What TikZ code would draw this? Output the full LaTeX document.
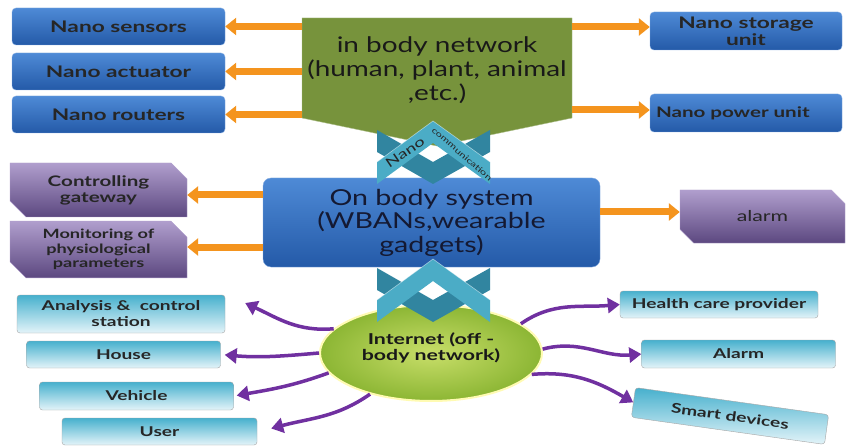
\documentclass[tikz,border=0pt]{standalone}
\usepackage{fontspec}
\setmainfont{Lato}
\newfontfamily\widefont[FakeStretch=1.42]{Lato}
\newfontfamily\greenfont[FakeStretch=1.3]{Lato}
\usetikzlibrary{arrows.meta,positioning,shapes.misc,shapes.geometric}

\definecolor{bluetop}{RGB}{78,138,214}
\definecolor{bluebot}{RGB}{36,90,168}
\definecolor{blueedge}{RGB}{130,170,225}
\definecolor{purtop}{RGB}{176,158,205}
\definecolor{purbot}{RGB}{92,72,128}
\definecolor{lbtop}{RGB}{70,176,205}
\definecolor{lbbot}{RGB}{228,244,249}
\definecolor{olive}{RGB}{119,147,60}
\definecolor{orarr}{RGB}{244,148,30}
\definecolor{purarr}{RGB}{112,48,160}
\definecolor{chevmid}{RGB}{75,172,198}
\definecolor{chevdark}{RGB}{49,133,160}
\definecolor{navytext}{RGB}{20,25,50}
\definecolor{limein}{RGB}{200,222,105}
\definecolor{limeout}{RGB}{140,182,52}

\begin{document}
\begin{tikzpicture}[x=1pt,y=-1pt,
  bluebox/.style={rectangle,rounded corners=4pt,draw=blueedge,top color=bluetop,bottom color=bluebot,
    font=\widefont\bfseries\fontsize{16}{17}\selectfont,text=black!85,align=center,minimum width=213pt,minimum height=37pt},
  purbox/.style={chamfered rectangle,chamfered rectangle corners={north east,south west},chamfered rectangle xsep=8pt,
    chamfered rectangle ysep=8pt,draw=purtop,top color=purtop,bottom color=purbot,
    font=\widefont\bfseries\fontsize{14.5}{16}\selectfont,text=black!85,align=center,minimum width=177pt,minimum height=54pt,inner sep=0pt},
  lbbox/.style={rectangle,rounded corners=3pt,draw=gray!70,top color=lbtop,bottom color=lbbot,
    font=\widefont\bfseries\fontsize{13.5}{16}\selectfont,text=black!85,align=center,minimum width=194pt,minimum height=28pt,inner sep=1pt},
  orarrow/.style={orarr,line width=7pt,-{Triangle[width=17pt,length=11pt]}},
  purarrow/.style={purarr,line width=3.5pt,-{Triangle[width=15pt,length=12pt]}},
  pics/chev/.style={code={
    \fill[chevdark] (-56,0) -- (0,32) -- (57,0) -- (57,22) -- (0,54) -- (-56,22) -- cycle;
    \fill[chevmid] (-56,32) -- (0,-9) -- (57,32) -- (57,54) -- (0,13) -- (-56,54) -- cycle;
    \draw[white,opacity=.5,line width=.6pt] (-56,32) -- (0,-9) -- (57,32);
  }}
]
\useasboundingbox[fill=white] (0,0) rectangle (853,446);

% in body network
\fill[olive,draw=olive!60!white] (302,18) -- (572,18) -- (572,118) -- (437,146) -- (302,118) -- cycle;
\node[font=\greenfont\fontsize{21.5}{24}\selectfont,text=black!90,align=center,minimum width=270pt,minimum height=96pt] (inbody) at (437,70) {in body network\\(human, plant, animal\\,etc.)};

\node[bluebox] (sens) at (118.5,26.5) {Nano sensors};
\node[bluebox] (act) at (118.5,71.5) {Nano actuator};
\node[bluebox] (rout) at (118.5,114.5) {Nano routers};
\node[bluebox,minimum width=192pt,minimum height=38pt] (stor) at (746,31) {Nano storage\\unit};
\node[bluebox,minimum width=192pt,minimum height=38pt,align=left,text width=180pt,font=\widefont\bfseries\fontsize{14.5}{16}\selectfont] (pow) at (746,113) {Nano power unit};

\draw[orarrow] (inbody.west |- sens.east) -- (sens.east);
\draw[orarrow] (inbody.west |- act.east) -- (act.east);
\draw[orarrow] (inbody.west |- rout.east) -- (rout.east);
\draw[orarrow] (inbody.east |- 0,27) -- (stor.west |- 0,27);
\draw[orarrow] (inbody.east |- 0,110) -- (pow.west |- 0,110);

% on body system
\node[bluebox,minimum width=337pt,minimum height=89pt,rounded corners=8pt,font=\greenfont\fontsize{22}{23.5}\selectfont,text=navytext] (onbody) at (431.5,222.5) {On body system\\(WBANs,wearable\\gadgets)};

\node[purbox] (ctrl) at (98.5,190) {Controlling\\gateway};
\node[purbox,minimum height=55pt,font=\widefont\bfseries\fontsize{12.8}{14.5}\selectfont] (mon) at (98.5,249.5) {Monitoring of\\physiological\\parameters};
\node[purbox,minimum width=165pt,minimum height=53pt,font=\widefont\fontsize{15}{16}\selectfont] (alarm) at (762.5,216.5) {alarm};

\draw[orarrow] (onbody.west |- 0,195) -- (ctrl.east |- 0,195);
\draw[orarrow] (onbody.west |- 0,247) -- (mon.east |- 0,247);
\draw[orarrow] (onbody.east |- 0,212) -- (alarm.west |- 0,212);

% internet
\node[ellipse,inner color=limein,outer color=limeout,draw=yellow!30!white,line width=2pt,minimum width=222pt,minimum height=96pt] (inet) at (431,353) {};
\node[font=\widefont\bfseries\fontsize{15}{16.5}\selectfont,text=black!90,align=center] (inettxt) at (431,348) {Internet (off -\\body network)};

% nano communication
\pic at (433,130) {chev};
\pic at (433,268) {chev};
\node[rotate=34,font=\widefont\fontsize{13}{13}\selectfont,text=black!85,inner sep=0pt] (nano) at (405,152) {Nano};
\node[rotate=-41,font=\widefont\fontsize{8}{8}\selectfont,text=black!85,inner sep=0pt] (comm) at (462,154) {communication};

\node[lbbox,minimum width=208pt,minimum height=38pt] (ana) at (121,314) {Analysis \&\ \ control\\station};
\node[lbbox,minimum height=27pt] (house) at (123.5,354.5) {House};
\node[lbbox] (veh) at (136.5,396) {Vehicle};
\node[lbbox,minimum width=195pt,minimum height=27pt] (user) at (159.5,431.5) {User};
\node[lbbox,minimum width=198pt,minimum height=27pt] (hcp) at (719,304.5) {Health care provider};
\node[lbbox] (alarm2) at (738.5,354) {Alarm};
\node[lbbox,minimum width=195pt,minimum height=30pt,rotate=-8] (smart) at (730,416) {Smart devices};

\draw[purarrow] (inet.166) to[out=185,in=-25] ([xshift=20pt,yshift=11pt]ana.east);
\draw[purarrow,shorten >=4pt] (inet.180) to[out=185,in=-5] (house.east);
\draw[purarrow,shorten >=3pt] (inet.191) to[out=200,in=10] (veh.east);
\draw[purarrow] (inet.214) to[out=215,in=15] ([xshift=14pt,yshift=3pt]user.east);
\draw[purarrow] (inet.18) to[out=35,in=185] (hcp.west);
\draw[purarrow] (inet.2) to[out=15,in=185] (alarm2.west);
\draw[purarrow] (inet.-12) to[out=5,in=150] (smart.west);
\end{tikzpicture}
\end{document}
